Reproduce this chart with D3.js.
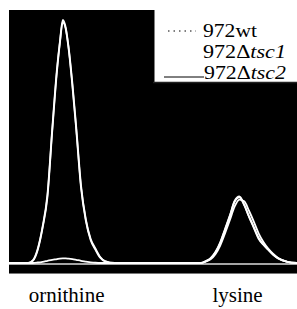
<!DOCTYPE html>
<html>
<head>
<meta charset="utf-8">
<script src="https://cdn.jsdelivr.net/npm/d3@7/dist/d3.min.js"></script>
<style>
  html, body { margin: 0; padding: 0; background: #fff; }
  svg { display: block; }
</style>
</head>
<body>
<svg id="chart" width="297" height="309"></svg>
<script>
// Retention time (min) sample grid
const times = [0, 1, 2, 2.5, 3, 3.5, 4, 4.5, 5, 5.3, 5.6, 5.9, 6.2, 6.6, 7, 7.5, 8, 8.5, 9, 9.5, 10, 11, 12, 14, 16, 18, 19, 20, 20.5, 21, 21.5, 22, 22.5, 23, 23.5, 24, 24.5, 25, 25.5, 26, 26.5, 27, 27.5, 28, 29, 30];

// Detector signal (% of ornithine wt peak)
const wt   = [0, 0, 0, 1.2, 6, 15, 28, 55, 80, 91, 100, 97, 89, 74, 56, 32, 18, 10, 6, 2.5, 0.8, 0, 0, 0, 0, 0, 0, 0, 0.8, 2, 4.5, 8.5, 14, 19.5, 25.5, 27.4, 24, 19, 14.5, 10, 7.5, 5.5, 3.5, 2, 0.5, 0];
const tsc1 = [0, 0, 0, 1.0, 5.5, 14.5, 27, 54, 79, 90.5, 99, 96.5, 88.5, 73, 55, 31, 17.5, 9.5, 5.5, 2.2, 0.7, 0, 0, 0, 0, 0, 0, 0, 0.6, 1.5, 3.6, 7.2, 12.2, 17.6, 23.2, 26.1, 25.4, 21.5, 17, 12.2, 8.6, 5.9, 3.8, 2.2, 0.5, 0];
const tsc2 = [0, 0, 0, 0, 0.2, 0.5, 0.9, 1.3, 1.6, 1.8, 1.9, 1.9, 1.8, 1.6, 1.3, 0.9, 0.6, 0.3, 0.1, 0, 0, 0, 0, 0, 0, 0, 0, 0, 0.7, 1.9, 4.3, 8.2, 13.6, 19.2, 25.2, 27, 23.8, 19.2, 14.8, 10.4, 7.6, 5.5, 3.5, 2, 0.5, 0];

const seriesNames = ["972wt", "972\u0394tsc1", "972\u0394tsc2"];
const seriesValues = [wt, tsc1, tsc2];
const peakLabels = ["ornithine", "lysine"];
const peakLabelTimes = [6.0, 23.8];

const svg = d3.select("#chart");
const plot = { left: 9, right: 297, top: 10, bottom: 274 };

const x = d3.scaleLinear().domain([0, 30]).range([plot.left, plot.right]);
const y = d3.scaleLinear().domain([0, 100]).range([263, 20]);

// black plot area
svg.append("rect")
  .attr("x", plot.left).attr("y", plot.top)
  .attr("width", plot.right - plot.left).attr("height", plot.bottom - plot.top)
  .attr("fill", "#000");

// bottom edge
svg.append("line")
  .attr("x1", plot.left).attr("x2", plot.right)
  .attr("y1", plot.bottom - 0.5).attr("y2", plot.bottom - 0.5)
  .attr("stroke", "#777").attr("stroke-width", 1);

// baseline
svg.append("line")
  .attr("x1", plot.left).attr("x2", plot.right)
  .attr("y1", y(0) + 1).attr("y2", y(0) + 1)
  .attr("stroke", "#ddd").attr("stroke-width", 1.5);

const line = d3.line()
  .x((d, i) => x(times[i]))
  .y(d => y(d))
  .curve(d3.curveMonotoneX);

svg.append("g").selectAll("path")
  .data(seriesValues)
  .join("path")
  .attr("d", d => line(d))
  .attr("fill", "none")
  .attr("stroke", "#fff")
  .attr("stroke-width", 1.8)
  .attr("stroke-linejoin", "round");

// legend box
const lg = svg.append("g");
lg.append("rect")
  .attr("x", 153).attr("y", 0).attr("width", 144).attr("height", 83)
  .attr("fill", "#fff");
lg.append("line").attr("x1", 153.5).attr("x2", 153.5).attr("y1", 10).attr("y2", 83)
  .attr("stroke", "#000").attr("stroke-width", 2);
lg.append("line").attr("x1", 153).attr("x2", 297).attr("y1", 82.5).attr("y2", 82.5)
  .attr("stroke", "#222").attr("stroke-width", 1.5);

const legendRows = [
  { y: 37, x: 203, w: 54, dash: "1.5,4", x1: 168, x2: 196, ly: 31 },
  { y: 58, x: 203, w: 83, dash: null, x1: null, x2: null, ly: 0 },
  { y: 79, x: 204, w: 82, dash: null, x1: 164, x2: 204, ly: 77 }
];
legendRows.forEach((r, i) => {
  if (r.x1 !== null) {
    lg.append("line")
      .attr("x1", r.x1).attr("x2", r.x2).attr("y1", r.ly).attr("y2", r.ly)
      .attr("stroke", "#000").attr("stroke-width", 1)
      .attr("stroke-dasharray", r.dash);
  }
  const name = seriesNames[i];
  const t = lg.append("text")
    .attr("x", r.x).attr("y", r.y)
    .attr("font-family", "Liberation Serif, Times New Roman, serif")
    .attr("font-size", 19)
    .attr("textLength", r.w)
    .attr("lengthAdjust", "spacingAndGlyphs")
    .attr("fill", "#000");
  const m = name.match(/^(972\u0394?)(.*)$/);
  if (m[1].includes("\u0394")) {
    t.append("tspan").text(m[1]);
    t.append("tspan").attr("font-style", "italic").text(m[2]);
  } else {
    t.text(name);
  }
});

// peak labels
svg.append("g").selectAll("text")
  .data(peakLabels)
  .join("text")
  .attr("x", (d, i) => x(peakLabelTimes[i]))
  .attr("y", 302)
  .attr("text-anchor", "middle")
  .attr("font-family", "Liberation Serif, Times New Roman, serif")
  .attr("font-size", 21)
  .attr("fill", "#000")
  .text(d => d);
</script>
</body>
</html>
